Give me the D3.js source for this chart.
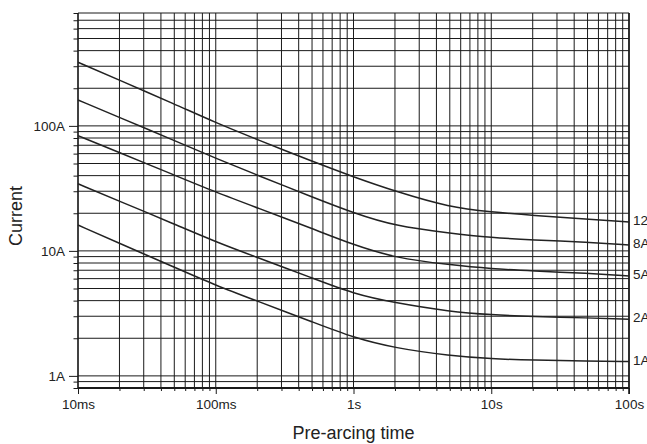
<!DOCTYPE html>
<html>
<head>
<meta charset="utf-8">
<script src="https://cdn.jsdelivr.net/npm/d3@7"></script>
<style>
  body { margin: 0; background: #fff; }
  text { font-family: "Liberation Sans", Arial, sans-serif; fill: #222; }
</style>
</head>
<body>
<div id="chart"></div>
<script>
// pre-arcing time (s) where the curves were read
const times = [0.01, 0.02, 0.05, 0.1, 0.2, 0.5, 1, 2, 5, 10, 20, 50, 100];

// current (A) for each fuse rating
const amp12 = [323, 232, 150, 106, 77.8, 52, 39.1, 30, 22.3, 20.5, 19.2, 17.9, 17.0];
const amp8 = [161, 117, 76.4, 55, 40.4, 27.0, 20.1, 15.8, 13.85, 12.77, 12.25, 11.7, 11.17];
const amp5 = [83.6, 61.2, 40.4, 29.5, 22.1, 15.1, 11.17, 8.79, 7.73, 7.18, 6.92, 6.61, 6.31];
const amp2 = [34.4, 25.0, 16.4, 11.8, 8.86, 6.08, 4.53, 3.84, 3.27, 3.08, 2.99, 2.91, 2.84];
const amp1 = [16.1, 11.5, 7.41, 5.30, 3.97, 2.71, 2.02, 1.67, 1.445, 1.368, 1.335, 1.318, 1.302];

const series = [amp12, amp8, amp5, amp2, amp1];
const seriesNames = ["12A", "8A", "5A", "2A", "1A"];

const xMajor = [0.01, 0.1, 1, 10, 100];
const xTickLabels = ["10ms", "100ms", "1s", "10s", "100s"];
const yMajor = [1, 10, 100];
const yTickLabels = ["1A", "10A", "100A"];

let width = 647;
let height = 444;
let margin = { top: 13, right: 18, bottom: 56, left: 78 };

let svg = d3
  .select("#chart")
  .append("svg")
  .attr("width", width)
  .attr("height", height)
  .style("overflow", "hidden");

let x = d3.scaleLog().domain([0.01, 100]).range([margin.left, width - margin.right]);
let y = d3.scaleLog().domain([0.8, 800]).range([height - margin.bottom, margin.top]);

// log grid: 1..9 in every decade
let xGrid = [];
[0.01, 0.1, 1, 10].forEach((d) => {
  for (let k = 1; k < 10; k++) xGrid.push(d * k);
});
xGrid.push(100);

let yGrid = [0.8, 0.9];
[1, 10, 100].forEach((d) => {
  for (let k = 1; k < 10; k++) if (d * k <= 800) yGrid.push(d * k);
});

function isMajor(d) {
  let l = Math.log10(d);
  return Math.abs(l - Math.round(l)) < 1e-6;
}

let grid = svg.append("g").attr("stroke", "#1a1a1a").attr("stroke-width", 1);

grid
  .selectAll(".vx")
  .data(xGrid)
  .enter()
  .append("line")
  .attr("x1", (d) => x(d))
  .attr("x2", (d) => x(d))
  .attr("y1", y.range()[1])
  .attr("y2", y.range()[0]);

grid
  .selectAll(".hy")
  .data(yGrid)
  .enter()
  .append("line")
  .attr("x1", x.range()[0])
  .attr("x2", x.range()[1])
  .attr("y1", (d) => y(d))
  .attr("y2", (d) => y(d));

// axes (ticks + labels only)
let xAxis = svg
  .append("g")
  .attr("transform", "translate(0," + y.range()[0] + ")")
  .call(
    d3.axisBottom(x)
      .tickValues(xGrid)
      .tickSizeOuter(0)
      .tickFormat((d) => {
        let i = xMajor.findIndex((m) => Math.abs(m - d) / m < 1e-6);
        return i >= 0 ? xTickLabels[i] : "";
      })
  );
xAxis.select(".domain").remove();
xAxis.selectAll(".tick line")
  .attr("stroke", "#1a1a1a")
  .attr("y2", (d) => (isMajor(d) ? 6 : 3));
xAxis.selectAll(".tick text")
  .attr("y", 11.5)
  .style("font-size", "13.5px")
  .style("font-family", "Liberation Sans, Arial, sans-serif")
  .attr("fill", "#222");

let yAxis = svg
  .append("g")
  .attr("transform", "translate(" + x.range()[0] + ",0)")
  .call(
    d3.axisLeft(y)
      .tickValues(yGrid)
      .tickSizeOuter(0)
      .tickFormat((d) => {
        let i = yMajor.findIndex((m) => Math.abs(m - d) / m < 1e-6);
        return i >= 0 ? yTickLabels[i] : "";
      })
  );
yAxis.select(".domain").remove();
yAxis.selectAll(".tick line")
  .attr("stroke", "#1a1a1a")
  .attr("x2", (d) => (isMajor(d) ? -9 : -4.5));
yAxis.selectAll(".tick text")
  .attr("x", -13)
  .style("font-size", "13.5px")
  .style("font-family", "Liberation Sans, Arial, sans-serif")
  .attr("fill", "#222");

// frame
svg.append("line")
  .attr("x1", x.range()[0]).attr("x2", x.range()[1])
  .attr("y1", y.range()[0]).attr("y2", y.range()[0])
  .attr("stroke", "#1a1a1a").attr("stroke-width", 2);
svg.append("line")
  .attr("x1", x.range()[0]).attr("x2", x.range()[0])
  .attr("y1", y.range()[1]).attr("y2", y.range()[0])
  .attr("stroke", "#1a1a1a").attr("stroke-width", 1.3);
svg.append("line")
  .attr("x1", x.range()[1]).attr("x2", x.range()[1])
  .attr("y1", y.range()[1]).attr("y2", y.range()[0] + 6)
  .attr("stroke", "#1a1a1a").attr("stroke-width", 1.6);

// curves (B-spline to keep them smooth)
let line = d3
  .line()
  .x((d) => x(d[0]))
  .y((d) => y(d[1]))
  .curve(d3.curveBasis);

series.forEach((vals, i) => {
  let pts = times.map((t, j) => [t, vals[j]]);
  svg.append("path")
    .datum(pts)
    .attr("d", line)
    .attr("fill", "none")
    .attr("stroke", "#222")
    .attr("stroke-width", 1.5);

  // labels run off the right edge, as in the original
  svg.append("text")
    .attr("x", x.range()[1] + 4)
    .attr("y", y(vals[vals.length - 1]))
    .attr("dy", "0.22em")
    .style("font-size", "13.5px")
    .text(seriesNames[i]);
});

// axis titles
svg.append("text")
  .attr("transform", "translate(22,216) rotate(-90)")
  .attr("text-anchor", "middle")
  .style("font-size", "18px")
  .text("Current");

svg.append("text")
  .attr("x", (x.range()[0] + x.range()[1]) / 2)
  .attr("y", 439)
  .attr("text-anchor", "middle")
  .style("font-size", "18px")
  .text("Pre-arcing time");
</script>
</body>
</html>
